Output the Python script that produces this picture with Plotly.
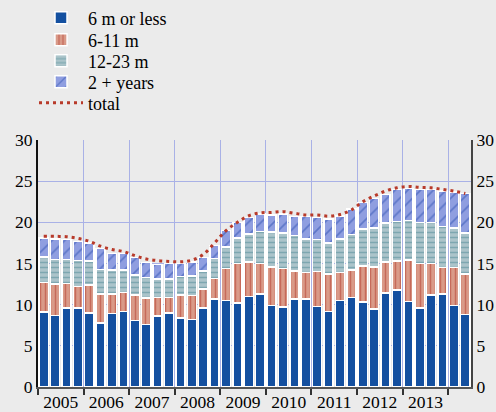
import plotly.graph_objects as go

# ---- data ----
periods = [f"{y}Q{q}" for y in range(2005, 2015) for q in range(1, 5)][:38]

short_6m = [9.1, 8.7, 9.6, 9.6, 9.0, 7.8, 8.9, 9.2, 8.1, 7.6,
            8.6, 9.0, 8.4, 8.2, 9.6, 10.7, 10.5, 10.2, 11.0, 11.3,
            9.9, 9.7, 10.7, 10.7, 9.8, 9.2, 10.5, 10.9, 10.3, 9.5,
            11.4, 11.8, 10.4, 9.6, 11.2, 11.3, 9.9, 8.8]
m6_11 = [3.6, 3.8, 3.0, 2.6, 3.4, 3.5, 2.4, 2.3, 3.1, 3.2,
         2.3, 1.9, 2.8, 2.9, 2.3, 2.5, 3.9, 4.8, 4.2, 3.7,
         4.7, 4.7, 3.4, 3.2, 4.2, 4.5, 3.4, 3.3, 4.4, 5.1,
         3.8, 3.5, 5.0, 5.4, 3.8, 3.2, 4.6, 4.9]
m12_23 = [3.1, 3.0, 2.9, 3.15, 2.9, 3.0, 2.9, 2.7, 2.4, 2.5,
          2.2, 2.2, 2.2, 2.4, 2.2, 2.4, 2.6, 3.1, 3.4, 3.9,
          4.2, 4.3, 4.3, 4.1, 3.9, 3.8, 4.1, 4.3, 4.5, 4.7,
          4.7, 4.8, 4.8, 5.0, 5.0, 5.0, 4.8, 5.0]
y2plus = [2.3, 2.5, 2.4, 2.3, 2.2, 2.5, 2.0, 2.0, 2.1, 1.8,
          1.8, 1.9, 1.6, 1.7, 1.6, 1.6, 2.0, 1.9, 2.0, 2.1,
          2.1, 2.3, 2.3, 2.7, 2.7, 2.9, 2.8, 3.1, 3.2, 3.6,
          3.5, 3.9, 3.9, 4.0, 4.0, 4.3, 4.4, 4.8]
total = [18.3, 18.3, 18.25, 18.05, 17.7, 17.1, 16.7, 16.45, 15.95, 15.55,
         15.35, 15.25, 15.2, 15.4, 16.1, 17.5, 19.0, 20.0, 20.8, 21.15,
         21.2, 21.3, 21.1, 20.9, 20.9, 20.75, 20.95, 21.5, 22.5, 23.2,
         23.8, 24.2, 24.35, 24.25, 24.2, 24.0, 23.8, 23.5]

years = list(range(2005, 2014))
y_ticks = [0, 5, 10, 15, 20, 25, 30]
series_names = ["6 m or less", "6-11 m", "12-23 m", "2 + years", "total"]

# ---- positions from period labels ----
x = [int(p[:4]) + (int(p[-1]) - 0.5) / 4 for p in periods]

FONT = "Liberation Serif, Times New Roman, DejaVu Serif, serif"
BG = "#ebebeb"
GRID = "#a9b1e6"
BAR_W = 0.2
W, H = 496, 412

fig = go.Figure()

fig.add_trace(go.Bar(
    x=x, y=short_6m, width=BAR_W, name=series_names[0], legend="legend",
    marker=dict(color="#1450a0", line=dict(color="white", width=1.5)),
))
fig.add_trace(go.Bar(
    x=x, y=m6_11, width=BAR_W, name=series_names[1], legend="legend2",
    marker=dict(color="#d99a88", line=dict(color="white", width=1.5),
                pattern=dict(shape="|", bgcolor="#d99a88", fgcolor="#b3392c",
                             size=5, solidity=0.3)),
))
fig.add_trace(go.Bar(
    x=x, y=m12_23, width=BAR_W, name=series_names[2], legend="legend3",
    marker=dict(color="#abc4ca", line=dict(color="white", width=1.5),
                pattern=dict(shape="-", bgcolor="#abc4ca", fgcolor="#4f8a96",
                             size=5, solidity=0.3)),
))
fig.add_trace(go.Bar(
    x=x, y=y2plus, width=BAR_W, name=series_names[3], legend="legend4",
    marker=dict(color="#8f9ee0", line=dict(color="white", width=1.5),
                pattern=dict(shape="/", bgcolor="#8f9ee0", fgcolor="#2a4db0",
                             size=9, solidity=0.18)),
))
fig.add_trace(go.Scatter(
    x=x, y=total, name=series_names[4], mode="lines", yaxis="y2", legend="legend5",
    line=dict(color="#b83a2a", width=3, dash="3px,4px", shape="spline", smoothing=1),
))

legend_centers = [18, 40, 61, 82, 103]


def legend_box(yc):
    return dict(
        xref="container", yref="container", x=34 / W, y=1 - yc / H,
        xanchor="left", yanchor="middle", traceorder="normal",
        bgcolor="rgba(0,0,0,0)", font=dict(family=FONT, size=18),
        itemwidth=44,
    )


fig.update_layout(
    width=W, height=H,
    margin=dict(l=38, r=25, t=140, b=25, autoexpand=False),
    paper_bgcolor=BG, plot_bgcolor=BG,
    barmode="stack",
    showlegend=True,
    font=dict(family=FONT, size=17.5, color="black"),
    legend=legend_box(legend_centers[0]),
    legend2=legend_box(legend_centers[1]),
    legend3=legend_box(legend_centers[2]),
    legend4=legend_box(legend_centers[3]),
    legend5=legend_box(legend_centers[4]),
    xaxis=dict(
        range=[2005, 2014.5],
        tickmode="array", tickvals=[yr + 0.5 for yr in years],
        ticktext=[str(yr) for yr in years], tickangle=0, automargin=False,
        ticks="", showgrid=False, zeroline=False, ticklabelstandoff=-2,
        showline=True, linecolor="#555555", linewidth=2,
        minor=dict(tickmode="linear", tick0=2005, dtick=1, ticks="outside",
                   ticklen=6, tickwidth=1.5, tickcolor="#333333",
                   showgrid=True, gridcolor=GRID, gridwidth=1.2),
        tickfont=dict(family=FONT, size=17.5),
        fixedrange=True,
    ),
    yaxis=dict(
        range=[0, 30], tickmode="array", tickvals=y_ticks, automargin=False,
        ticks="", showgrid=True, gridcolor=GRID, gridwidth=1.2, zeroline=False,
        showline=True, linecolor="#111111", linewidth=2,
        tickfont=dict(family=FONT, size=17.5),
    ),
    yaxis2=dict(
        range=[0, 30], tickmode="array", tickvals=y_ticks, automargin=False,
        overlaying="y", side="right", showgrid=False, zeroline=False,
        ticks="", showline=True, linecolor="#444444", linewidth=2,
        tickfont=dict(family=FONT, size=17.5),
    ),
)

fig.write_html("out.html", config={"displayModeBar": False},
               post_script="document.body.style.margin='0';document.body.style.padding='0';")
